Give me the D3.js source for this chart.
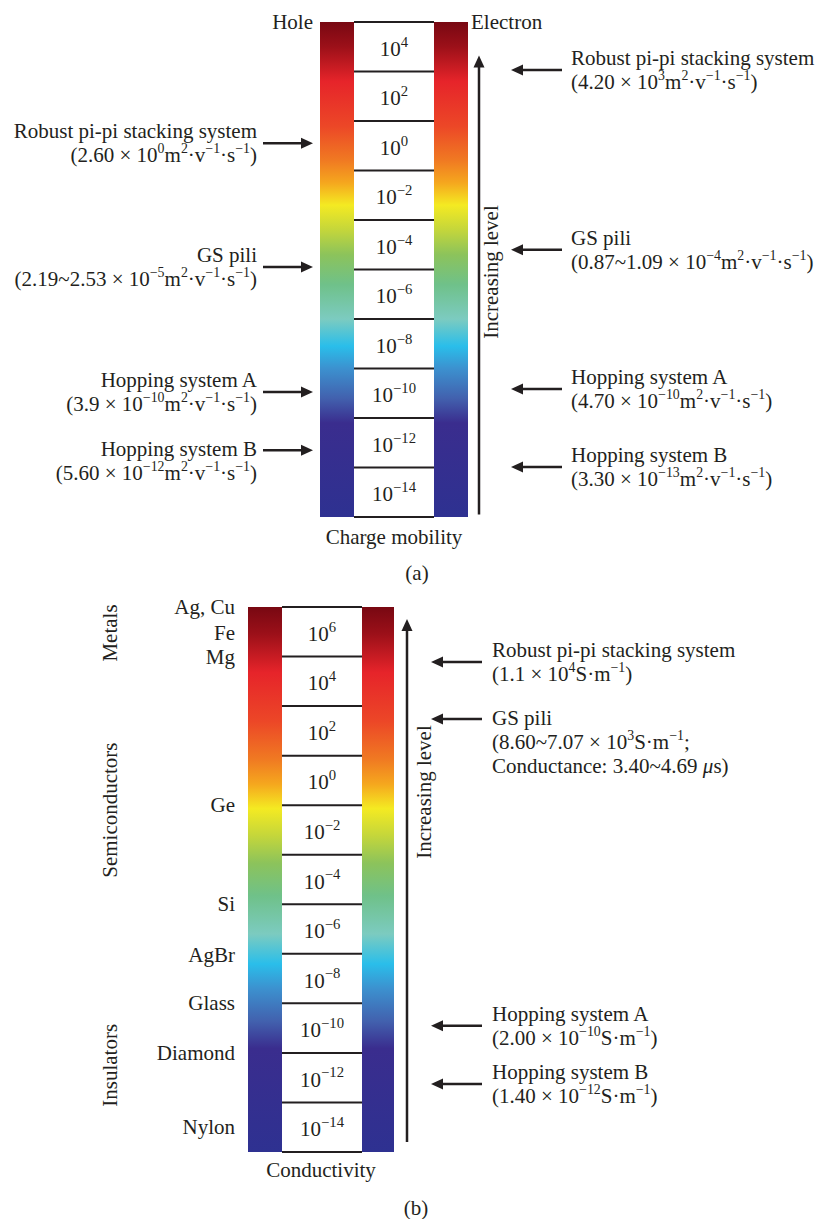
<!DOCTYPE html>
<html>
<head>
<meta charset="utf-8">
<script src="https://cdn.jsdelivr.net/npm/d3@7"></script>
<style>
  html, body { margin: 0; padding: 0; background: #fff; }
  svg { display: block; }
</style>
</head>
<body>
<div id="chart"></div>
<script>
// ---------------- DATA ----------------
const mobilityExponents = [4, 2, 0, -2, -4, -6, -8, -10, -12, -14];
const conductivityExponents = [6, 4, 2, 0, -2, -4, -6, -8, -10, -12, -14];

// Panel (a) hole side (left); level = log10 position the arrow points to
const holeAnnotations = [
  { lines: ["Robust pi-pi stacking system", "(2.60 × 10^{0}m^{2}·v^{−1}·s^{−1})"], level: 0.1, align: "mid" },
  { lines: ["GS pili", "(2.19~2.53 × 10^{−5}m^{2}·v^{−1}·s^{−1})"], level: -4.9, align: "mid" },
  { lines: ["Hopping system A", "(3.9 × 10^{−10}m^{2}·v^{−1}·s^{−1})"], level: -9.95, align: "mid" },
  { lines: ["Hopping system B", "(5.60 × 10^{−12}m^{2}·v^{−1}·s^{−1})"], level: -12.3, align: "first" }
];
// Panel (a) electron side (right)
const electronAnnotations = [
  { lines: ["Robust pi-pi stacking system", "(4.20 × 10^{3}m^{2}·v^{−1}·s^{−1})"], level: 3.06, align: "mid" },
  { lines: ["GS pili", "(0.87~1.09 × 10^{−4}m^{2}·v^{−1}·s^{−1})"], level: -4.2, align: "mid" },
  { lines: ["Hopping system A", "(4.70 × 10^{−10}m^{2}·v^{−1}·s^{−1})"], level: -9.83, align: "mid" },
  { lines: ["Hopping system B", "(3.30 × 10^{−13}m^{2}·v^{−1}·s^{−1})"], level: -12.98, align: "mid" }
];
// Panel (b) conductivity annotations (right)
const conductivityAnnotations = [
  { lines: ["Robust pi-pi stacking system", "(1.1 × 10^{4}S·m^{−1})"], level: 4.78, align: "mid" },
  { lines: ["GS pili", "(8.60~7.07 × 10^{3}S·m^{−1};", "Conductance: 3.40~4.69 *μ*s)"], level: 2.48, align: "first" },
  { lines: ["Hopping system A", "(2.00 × 10^{−10}S·m^{−1})"], level: -9.9, align: "mid" },
  { lines: ["Hopping system B", "(1.40 × 10^{−12}S·m^{−1})"], level: -12.26, align: "mid" }
];
// Panel (b) materials (log10 conductivity level)
const materialNames = ["Ag, Cu", "Fe", "Mg", "Ge", "Si", "AgBr", "Glass", "Diamond", "Nylon"];
const materialLevels = [7.0, 5.95, 5.0, -1.0, -5.0, -7.05, -9.0, -11.0, -14.0];
const classNames = ["Metals", "Semiconductors", "Insulators"];
const classLevels = [5.95, -1.2, -11.5];

// ---------------- STYLE ----------------
const W = 817, H = 1219;
const FONT = "'Liberation Serif', 'Times New Roman', serif";
const INK = "#231f20";
const FS = 21;
const gradientStops = [
  [0.00, "#780812"], [0.05, "#9c1019"], [0.12, "#e6242a"], [0.21, "#ec4727"],
  [0.28, "#f07a22"], [0.325, "#f5a71e"], [0.37, "#f4ea22"], [0.42, "#c4d63b"],
  [0.47, "#8cc35b"], [0.53, "#6fc189"], [0.60, "#7ccbc0"], [0.655, "#2abeea"],
  [0.70, "#3c91cf"], [0.76, "#4261ae"], [0.81, "#3a2d8e"], [1.00, "#2e3191"]
];

const svg = d3.select("#chart").append("svg")
  .attr("width", W).attr("height", H)
  .style("font-family", FONT);
svg.append("rect").attr("width", W).attr("height", H).attr("fill", "#fff");

const defs = svg.append("defs");
const grad = defs.append("linearGradient").attr("id", "spec")
  .attr("x1", 0).attr("y1", 0).attr("x2", 0).attr("y2", 1);
grad.selectAll("stop").data(gradientStops).join("stop")
  .attr("offset", d => d[0]).attr("stop-color", d => d[1]);

// rich text: ^{sup} superscripts, *italic*
function rich(textSel, str, fs, supRatio = 0.66, supRise = 0.42) {
  const re = /\^\{([^}]*)\}|\*([^*]*)\*/g;
  let last = 0, m, shift = 0;
  const parts = [];
  while ((m = re.exec(str)) !== null) {
    if (m.index > last) parts.push({ t: str.slice(last, m.index), type: "n" });
    if (m[1] !== undefined) parts.push({ t: m[1], type: "sup" });
    else parts.push({ t: m[2], type: "it" });
    last = re.lastIndex;
  }
  if (last < str.length) parts.push({ t: str.slice(last), type: "n" });
  parts.forEach(p => {
    const ts = textSel.append("tspan").text(p.t);
    if (p.type === "sup") {
      const target = -supRise * fs;
      ts.attr("font-size", fs * supRatio).attr("dy", target - shift);
      shift = target;
    } else {
      if (shift !== 0) { ts.attr("dy", -shift); shift = 0; }
      if (p.type === "it") ts.attr("font-style", "italic");
    }
  });
}

function arrow(g, x1, y1, x2, y2) {
  const len = Math.hypot(x2 - x1, y2 - y1);
  const ux = (x2 - x1) / len, uy = (y2 - y1) / len;
  const hl = 12, hw = 5.5;
  g.append("line").attr("x1", x1).attr("y1", y1)
    .attr("x2", x2 - ux * (hl - 2)).attr("y2", y2 - uy * (hl - 2))
    .attr("stroke", INK).attr("stroke-width", 2.5);
  const bx = x2 - ux * hl, by = y2 - uy * hl;
  g.append("polygon")
    .attr("points", [[x2, y2], [bx - uy * hw, by + ux * hw], [bx + uy * hw, by - ux * hw]].map(p => p.join(",")).join(" "))
    .attr("fill", INK);
}

function ladder(g, exps, y, xL, xW, xR, xE) {
  const [top, bottom] = y.range();
  g.append("rect").attr("x", xL).attr("y", top).attr("width", xW - xL).attr("height", bottom - top).attr("fill", "url(#spec)");
  g.append("rect").attr("x", xR).attr("y", top).attr("width", xE - xR).attr("height", bottom - top).attr("fill", "url(#spec)");
  g.append("rect").attr("x", xW).attr("y", top).attr("width", xR - xW).attr("height", bottom - top).attr("fill", "#fff");
  const lines = exps.map(e => y(e + 1)).concat([y(exps[exps.length - 1] - 1)]);
  g.selectAll("line.div").data(lines).join("line").attr("class", "div")
    .attr("x1", xW).attr("x2", xR).attr("y1", d => d).attr("y2", d => d)
    .attr("stroke", INK).attr("stroke-width", 2);
  exps.forEach(e => {
    const t = g.append("text").attr("x", (xW + xR) / 2).attr("y", y(e) + 9)
      .attr("text-anchor", "middle").attr("font-size", 21).attr("fill", INK);
    rich(t, "10^{" + (e < 0 ? "−" + (-e) : e) + "}", 21, 0.7, 0.44);
  });
}

function annotations(g, anns, y, tail, tip, textX, anchor) {
  anns.forEach(a => {
    const ay = y(a.level);
    arrow(g, tail, ay, tip, ay);
    const base = a.align === "first" ? ay + 6 : ay - 5;
    a.lines.forEach((ln, i) => {
      const t = g.append("text").attr("x", textX).attr("y", base + i * 24)
        .attr("text-anchor", anchor).attr("font-size", FS).attr("fill", INK);
      rich(t, ln, FS);
    });
  });
}

function vtext(g, str, cx, cy) {
  g.append("text").attr("transform", `translate(${cx},${cy}) rotate(-90)`)
    .attr("text-anchor", "middle").attr("dy", "0.33em")
    .attr("font-size", FS).attr("fill", INK).text(str);
}

// ---------------- PANEL (a) ----------------
const yA = d3.scaleLinear().domain([5, -15]).range([22, 517]);
const gA = svg.append("g");
ladder(gA, mobilityExponents, yA, 320, 354, 434, 468);
gA.append("text").attr("x", 313).attr("y", 29).attr("text-anchor", "end").attr("font-size", FS).attr("fill", INK).text("Hole");
gA.append("text").attr("x", 471).attr("y", 29).attr("text-anchor", "start").attr("font-size", FS).attr("fill", INK).text("Electron");
arrow(gA, 479, yA(-14.9), 479, yA(3.65));
vtext(gA, "Increasing level", 491, 272);
annotations(gA, holeAnnotations, yA, 263, 313, 257, "end");
annotations(gA, electronAnnotations, yA, 562, 511, 571, "start");
gA.append("text").attr("x", 394).attr("y", 544).attr("text-anchor", "middle").attr("font-size", FS).attr("fill", INK).text("Charge mobility");
gA.append("text").attr("x", 417).attr("y", 580).attr("text-anchor", "middle").attr("font-size", FS).attr("fill", INK).text("(a)");

// ---------------- PANEL (b) ----------------
const yB = d3.scaleLinear().domain([7, -15]).range([607, 1152]);
const gB = svg.append("g");
ladder(gB, conductivityExponents, yB, 248, 282, 362, 394);
arrow(gB, 407, yB(-14.6), 407, yB(6.52));
vtext(gB, "Increasing level", 424, 792);
annotations(gB, conductivityAnnotations, yB, 482, 431, 492, "start");
materialNames.forEach((n, i) => {
  gB.append("text").attr("x", 235).attr("y", yB(materialLevels[i]) + 7)
    .attr("text-anchor", "end").attr("font-size", FS).attr("fill", INK).text(n);
});
classNames.forEach((n, i) => vtext(gB, n, 110, yB(classLevels[i])));
gB.append("text").attr("x", 321).attr("y", 1177).attr("text-anchor", "middle").attr("font-size", FS).attr("fill", INK).text("Conductivity");
gB.append("text").attr("x", 416).attr("y", 1215).attr("text-anchor", "middle").attr("font-size", FS).attr("fill", INK).text("(b)");
</script>
</body>
</html>
